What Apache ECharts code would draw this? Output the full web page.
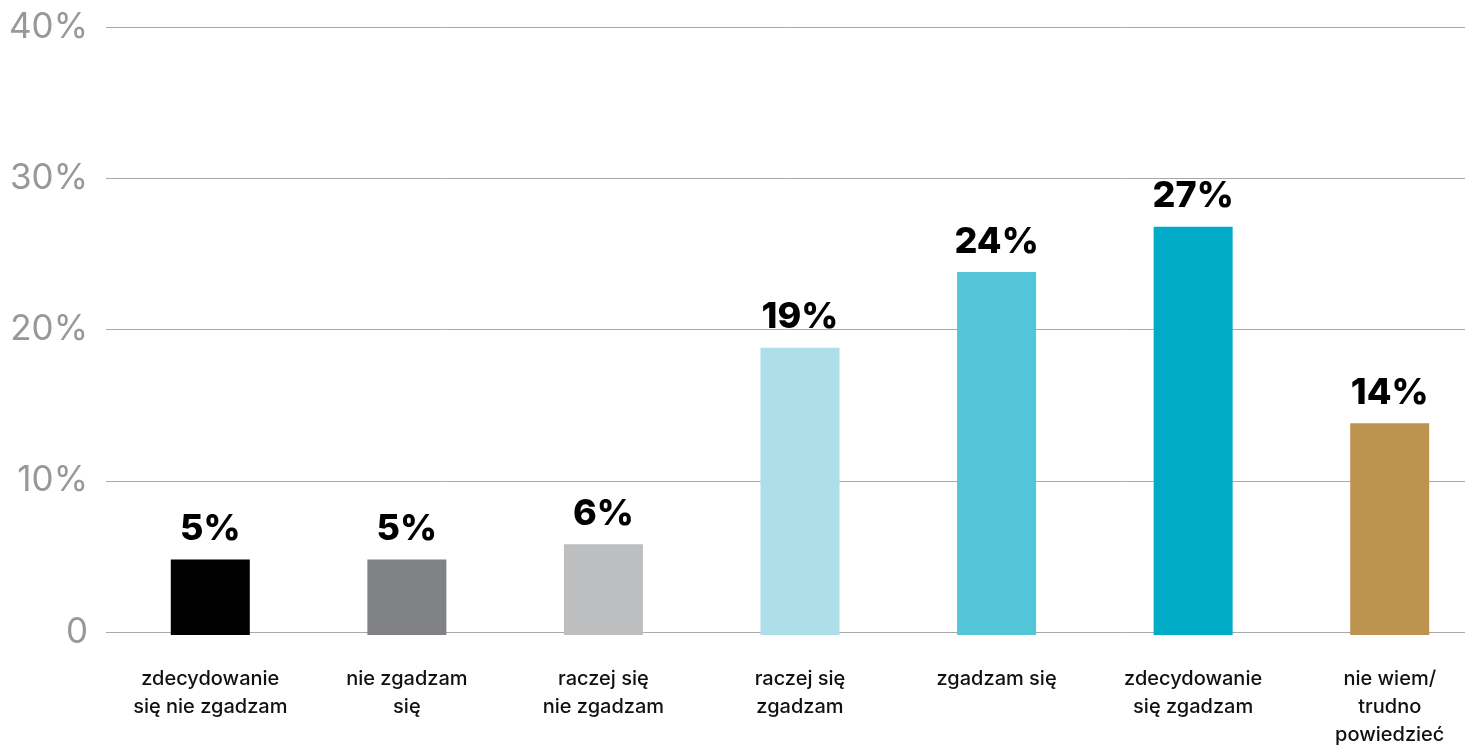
<!DOCTYPE html>
<html>
<head>
<meta charset="utf-8">
<script src="https://cdn.jsdelivr.net/npm/echarts@6/dist/echarts.min.js"></script>
<style>html,body{margin:0;padding:0;background:#fff;}#c{width:1465px;height:747px;}</style>
</head>
<body>
<div id="c"></div>
<script>
var categories = ['zdecydowanie\nsię nie zgadzam', 'nie zgadzam\nsię', 'raczej się\nnie zgadzam', 'raczej się\nzgadzam', 'zgadzam się', 'zdecydowanie\nsię zgadzam', 'nie wiem/\ntrudno\npowiedzieć'];
var values = [5, 5, 6, 19, 24, 27, 14];
var colors = ['#000000', '#818286', '#bdbec0', '#aedfe9', '#52c5d9', '#00abc8', '#bd9350'];
var yTicks = [0, 10, 20, 30, 40];

var chart = echarts.init(document.getElementById('c'));
var font = 'Inter, "Noto Sans", sans-serif';
chart.setOption({
  animation: false,
  backgroundColor: '#fff',
  grid: [
    {left: 106, right: 0, top: 27, bottom: 115, containLabel: false, outerBoundsMode: 'none'},
    {left: 112, width: 1376, top: 30, bottom: 112, containLabel: false, outerBoundsMode: 'none'}
  ],
  xAxis: [
    {type: 'category', gridIndex: 0, data: categories, show: false},
    {type: 'category', gridIndex: 1, data: categories,
     axisLine: {show: false}, axisTick: {show: false},
     axisLabel: {interval: 0, color: '#111', fontFamily: font, fontWeight: 500, fontSize: 20, lineHeight: 28, margin: 30, verticalAlign: 'top'}}
  ],
  yAxis: [
    {type: 'value', gridIndex: 0, min: yTicks[0], max: yTicks[yTicks.length - 1], interval: 10,
     axisLine: {show: false}, axisTick: {show: false},
     splitLine: {lineStyle: {color: '#a9a9ab', width: 1}},
     axisLabel: {color: '#98989c', fontFamily: font, fontSize: 35, margin: 18,
       formatter: function (v) { return v === 0 ? '0' : v + '%'; }}},
    {type: 'value', gridIndex: 1, min: yTicks[0], max: yTicks[yTicks.length - 1], interval: 10, show: false}
  ],
  series: [{
    type: 'bar',
    xAxisIndex: 1, yAxisIndex: 1,
    barWidth: 79,
    data: values.map(function (v, i) { return {value: v, itemStyle: {color: colors[i]}}; }),
    label: {show: true, position: 'top', distance: 12, formatter: '{c}%', color: '#000',
      fontFamily: font, fontWeight: 800, fontSize: 36}
  }]
});
</script>
</body>
</html>
